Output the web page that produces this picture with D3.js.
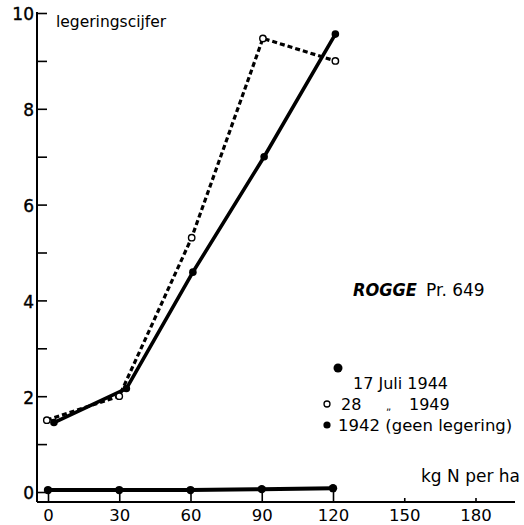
<!DOCTYPE html>
<html>
<head>
<meta charset="utf-8">
<script src="https://cdn.jsdelivr.net/npm/d3@7"></script>
<style>
  html, body { margin: 0; padding: 0; background: #fff; }
  svg { display: block; }
  text { font-family: "DejaVu Sans", "Liberation Sans", sans-serif; fill: #000; }
</style>
</head>
<body>
<div id="chart"></div>
<script>
// ---- data ----
const xTicks = [0, 30, 60, 90, 120, 150, 180];
const yTicks = [0, 1, 2, 3, 4, 5, 6, 7, 8, 9, 10];
const yLabels = ["0", "", "2", "", "4", "", "6", "", "8", "", "10"];

// 17 Juli 1944 (solid line, filled dots)
const juli1944N = [2.5, 33, 61, 91, 121];
const juli1944V = [1.45, 2.16, 4.59, 7.0, 9.56];

// 28 Juli 1949 (dashed line, open circles)
const juli1949N = [-0.5, 30, 60.5, 90.5, 121];
const juli1949V = [1.5, 2.0, 5.31, 9.47, 9.0];

// 1942 (geen legering)
const y1942N = [0, 30, 60, 90, 120];
const y1942V = [0.04, 0.04, 0.04, 0.06, 0.08];

const legendLabels = ["17 Juli 1944", "28", "\u201E", "1949", "1942 (geen legering)"];

// ---- chart ----
const W = 524, H = 525;
const svg = d3.select("#chart").append("svg")
  .attr("width", W).attr("height", H)
  .style("background", "#fff");

const x = d3.scaleLinear().domain([0, 180]).range([48, 475.5]);
const y = d3.scaleLinear().domain([0, 10]).range([492, 13]);

const axisX0 = 37;   // y-axis position
const axisY0 = 502;  // x-axis position

// y axis
const yAxis = d3.axisLeft(y)
  .tickValues(yTicks)
  .tickSize(-10)
  .tickSizeOuter(0)
  .tickPadding(3)
  .tickFormat((d, i) => yLabels[i]);
const gy = svg.append("g").attr("transform", `translate(${axisX0},0)`).call(yAxis);
gy.select(".domain").remove();
gy.selectAll(".tick line").attr("stroke", "#000").attr("stroke-width", 1.6);
gy.selectAll(".tick text").style("font-size", "17px").attr("dy", "0.4em")
  .attr("stroke", "#000").attr("stroke-width", 0.4);
svg.append("line")
  .attr("x1", axisX0).attr("x2", axisX0)
  .attr("y1", y(10) - 1).attr("y2", axisY0)
  .attr("stroke", "#000").attr("stroke-width", 2);

// x axis
const xAxis = d3.axisBottom(x)
  .tickValues(xTicks)
  .tickSize(-10)
  .tickSizeOuter(0)
  .tickPadding(7)
  .tickFormat(d3.format("d"));
const gx = svg.append("g").attr("transform", `translate(0,${axisY0})`).call(xAxis);
gx.select(".domain").remove();
gx.selectAll(".tick line")
  .attr("stroke", "#000").attr("stroke-width", 1.6)
  .attr("y2", d => d > 120 ? -4 : -10);
gx.selectAll(".tick text").style("font-size", "16.5px");
svg.append("line")
  .attr("x1", axisX0).attr("x2", 515)
  .attr("y1", axisY0).attr("y2", axisY0)
  .attr("stroke", "#000").attr("stroke-width", 1.8);

// axis titles
svg.append("text").attr("x", 56).attr("y", 27)
  .style("font-size", "15.5px").text("legeringscijfer");
svg.append("text").attr("x", 520).attr("y", 482)
  .attr("text-anchor", "end")
  .style("font-size", "17px").text("kg N per ha");

// lines
const line = d3.line().x(d => x(d[0])).y(d => y(d[1]));
const s1944 = juli1944N.map((n, i) => [n, juli1944V[i]]);
const s1949 = juli1949N.map((n, i) => [n, juli1949V[i]]);
const s1942 = y1942N.map((n, i) => [n, y1942V[i]]);

svg.append("path").datum(s1949)
  .attr("d", line).attr("fill", "none")
  .attr("stroke", "#000").attr("stroke-width", 3.2)
  .attr("stroke-dasharray", "5,3");
svg.append("path").datum(s1944)
  .attr("d", line).attr("fill", "none")
  .attr("stroke", "#000").attr("stroke-width", 3.6);
svg.append("path").datum(s1942)
  .attr("d", line).attr("fill", "none")
  .attr("stroke", "#000").attr("stroke-width", 4);

// markers
svg.append("g").selectAll("circle").data(s1944).join("circle")
  .attr("cx", d => x(d[0])).attr("cy", d => y(d[1])).attr("r", 3.8)
  .attr("fill", "#000");
svg.append("g").selectAll("circle").data(s1949).join("circle")
  .attr("cx", d => x(d[0])).attr("cy", d => y(d[1])).attr("r", 3.2)
  .attr("fill", "#fff").attr("stroke", "#000").attr("stroke-width", 1.4);
svg.append("g").selectAll("circle").data(s1942).join("circle")
  .attr("cx", d => x(d[0])).attr("cy", d => y(d[1])).attr("r", 4.2)
  .attr("fill", "#000");

// title
svg.append("text").attr("x", 353).attr("y", 296)
  .style("font-family", "'Liberation Sans Narrow', 'DejaVu Sans Condensed', sans-serif")
  .style("font-weight", "bold").style("font-style", "italic")
  .style("font-size", "18px").text("ROGGE");
svg.append("text").attr("x", 426).attr("y", 296)
  .style("font-size", "17px").text("Pr. 649");

// legend
const lg = svg.append("g");
lg.append("circle").attr("cx", 338).attr("cy", 368).attr("r", 4.5).attr("fill", "#000");
lg.append("text").attr("x", 353).attr("y", 389).style("font-size", "16px").text(legendLabels[0]);
lg.append("circle").attr("cx", 327).attr("cy", 404).attr("r", 3)
  .attr("fill", "#fff").attr("stroke", "#000").attr("stroke-width", 1.3);
lg.append("text").attr("x", 341).attr("y", 410).style("font-size", "16px").text(legendLabels[1]);
lg.append("text").attr("x", 386).attr("y", 410).style("font-size", "10px").text(legendLabels[2]);
lg.append("text").attr("x", 409).attr("y", 410).style("font-size", "16px").text(legendLabels[3]);
lg.append("circle").attr("cx", 327).attr("cy", 425).attr("r", 3.6).attr("fill", "#000");
lg.append("text").attr("x", 338).attr("y", 431).style("font-size", "16.5px").text(legendLabels[4]);
</script>
</body>
</html>
